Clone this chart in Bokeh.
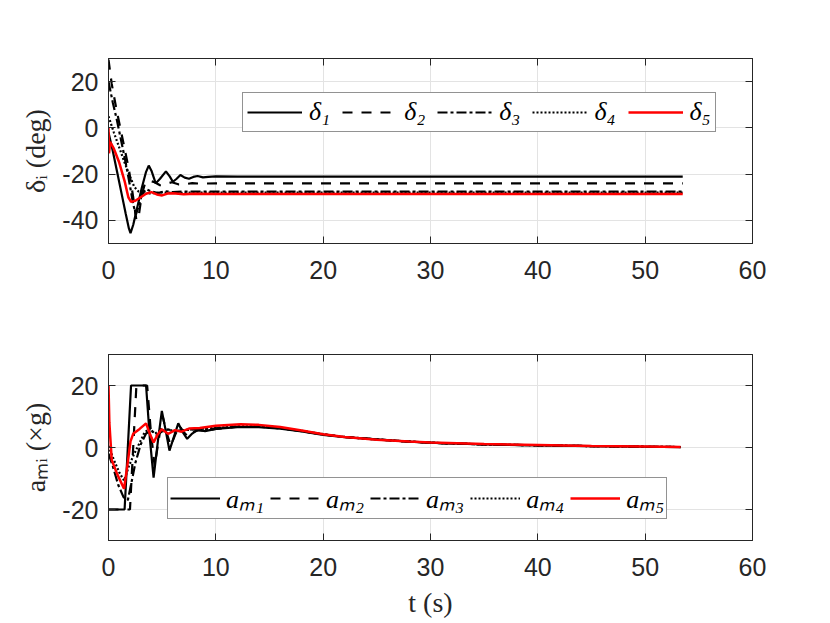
from bokeh.plotting import figure
from bokeh.models import (Legend, LegendItem, LinearAxis, FixedTicker, Range1d, CustomLabelingPolicy)
from bokeh.layouts import column
from bokeh.embed import file_html
from bokeh.resources import INLINE

# ---------------- data: top panel (delta_i, deg) ----------------
t_d1 = [0, 0.4, 0.8, 1.2, 1.6, 1.9, 2.05, 2.3, 2.7, 3.1, 3.5, 3.75, 4.0, 4.4, 4.8, 5.35, 5.7, 6.0, 6.35, 6.7,
        7.1, 7.5, 7.9, 8.3, 8.8, 9.3, 10, 12, 53.5]
d1 = [-2, -10, -19, -28, -37, -43.5, -45.5, -42, -34, -26, -19, -16.3, -18.5, -24, -22, -18.8, -21, -23.3, -22, -20.4,
      -21.5, -22, -21.2, -20.8, -21.4, -21.2, -21, -21.1, -21.1]

t_d2 = [0, 0.3, 0.7, 1.1, 1.5, 1.9, 2.3, 2.6, 2.85, 3.1, 3.4, 3.8, 4.3, 4.8, 5.3, 5.9, 6.5, 7.1, 7.8, 8.5, 10, 53.5]
d2 = [29.5, 19, 9, 0, -9, -18, -30, -40, -37, -29, -24, -22.8, -23.5, -24.8, -24.3, -23.5, -24.4, -24.4, -23.9, -24.1, -24, -24]

t_d3 = [0, 0.4, 0.8, 1.2, 1.6, 2.0, 2.3, 2.55, 2.8, 3.1, 3.5, 4.0, 4.6, 5.3, 6.0, 7.0, 8.0, 10, 53.5]
d3 = [20, 11, 3, -6, -15, -25, -33, -37.5, -34, -29, -26.5, -27.5, -28.2, -27.4, -27.8, -27.5, -27.6, -27.6, -27.6]

t_d4 = [0, 0.5, 1.0, 1.5, 2.0, 2.4, 2.8, 3.3, 4.0, 5.0, 6.0, 8.0, 53.5]
d4 = [5, -2, -8.5, -15, -21, -25.5, -27.5, -28.5, -28.3, -27.9, -28.1, -28, -28]

t_d5 = [0, 0.05, 0.15, 0.5, 1.0, 1.5, 1.85, 2.1, 2.5, 3.0, 3.5, 4.0, 4.5, 5.0, 5.5, 6.0, 7.0, 8.0, 10, 53.5]
d5 = [0, -11, -6, -9, -15, -23, -30, -32, -31.5, -30, -28.5, -27.8, -28.8, -29.2, -28.4, -28.3, -28.7, -28.5, -28.6, -28.6]

# ---------------- data: bottom panel (a_Mi, x g) ----------------
t_a1 = [0, 1.5, 2.1, 3.5, 3.85, 4.2, 4.6, 4.97, 5.3, 5.68, 6.1, 6.5, 6.9, 7.33, 7.8, 8.3, 9.0, 10, 12, 14,
        16, 18, 20, 22, 25, 28, 31, 35, 40, 45, 50, 53.3]
a1 = [-20, -20, 20, 20, 3, -9.7, 2, 11.8, 6, -1, 3.5, 7.8, 5, 2.8, 4.5, 5.7, 5.3, 6.0, 6.6, 6.6,
      6.1, 5.2, 4.1, 3.3, 2.6, 1.9, 1.4, 1.0, 0.7, 0.45, 0.25, 0.15]

t_a2 = [0, 2.0, 2.6, 3.6, 3.95, 4.3, 4.7, 5.05, 5.4, 5.8, 6.2, 6.6, 7.0, 7.4, 7.9, 8.4, 9.0, 10, 12, 14,
        16, 18, 20, 22, 25, 28, 31, 35, 40, 45, 50, 53.3]
a2 = [-20, -20, 20, 20, 5, -6, 3, 10, 5, 0.5, 4, 7, 5, 3.5, 5, 5.6, 5.4, 6.0, 6.7, 6.7,
      6.2, 5.3, 4.2, 3.4, 2.6, 1.9, 1.4, 1.0, 0.7, 0.45, 0.25, 0.15]

t_a3 = [0, 0.4, 0.9, 1.4, 1.8, 2.1, 2.5, 3.0, 3.5, 4.0, 4.5, 5.0, 5.6, 6.2, 7.0, 8.0, 9.0, 10, 12, 14,
        16, 18, 20, 22, 25, 28, 31, 35, 40, 45, 50, 53.3]
a3 = [-2, -6, -12, -16, -17, -12, -5, 1, 4.5, 5.5, 4, 5.2, 5.8, 5.2, 5.6, 5.8, 6.0, 6.2, 6.7, 6.7,
      6.2, 5.3, 4.2, 3.4, 2.6, 1.9, 1.4, 1.0, 0.7, 0.45, 0.25, 0.15]

t_a4 = [0, 0.5, 1.0, 1.45, 1.9, 2.4, 2.9, 3.35, 3.8, 4.3, 4.8, 5.5, 6.2, 7.0, 8.0, 9.0, 10, 12, 14,
        16, 18, 20, 22, 25, 28, 31, 35, 40, 45, 50, 53.3]
a4 = [0.5, -4, -8, -10.7, -6, -2, 1.5, 4.8, 6, 4.5, 5.3, 5.8, 5.3, 5.6, 5.9, 6.1, 6.3, 6.8, 6.8,
      6.3, 5.4, 4.3, 3.4, 2.6, 1.9, 1.4, 1.0, 0.7, 0.45, 0.25, 0.15]

t_a5 = [0, 0.08, 0.3, 0.8, 1.45, 1.75, 2.05, 2.3, 2.9, 3.5, 3.9, 4.2, 4.55, 4.95, 5.55, 6.2, 6.8, 7.5, 8.5, 10,
        12.3, 14, 16, 18, 20, 22, 25, 28, 30, 35, 40, 45, 50, 53.3]
a5 = [20, 8, -4, -8.5, -13.3, -6, 2, 4.4, 6, 7.8, 4, 1.6, 4, 5.9, 4.4, 5.6, 5.1, 6.1, 6.3, 7.0,
      7.5, 7.3, 6.6, 5.5, 4.3, 3.4, 2.5, 1.9, 1.6, 1.1, 0.8, 0.5, 0.3, 0.15]

x_ticks = [0, 10, 20, 30, 40, 50, 60]
top_y_ticks = [-40, -20, 0, 20]
bot_y_ticks = [-20, 0, 20]
top_labels = ["δ₁", "δ₂", "δ₃", "δ₄", "δ₅"]
bot_labels = ["aₘ₁", "aₘ₂", "aₘ₃", "aₘ₄", "aₘ₅"]

TXT = "#262626"
GRID = "#e3e3e3"
SANS = "Liberation Sans"
SERIF = "Liberation Serif"
TICK_FS = "25px"
LABEL_FS = "28px"

styles = [
    dict(color="black", line_width=2.2, line_dash="solid"),
    dict(color="black", line_width=2.2, line_dash="10 9"),
    dict(color="black", line_width=2.2, line_dash="10 3 3 3"),
    dict(color="black", line_width=2.2, line_dash="2 2"),
    dict(color="#ff0000", line_width=2.5, line_dash="solid"),
]

NO_LABELS = CustomLabelingPolicy(code="""
for (const i of indices) { indices.unset(i) }
return indices
""")


def fmt(ticks):
    return {v: str(v) for v in ticks}


def make_fig(yr, yticks, h, bt, bb, ylabel, xlabel=None):
    p = figure(frame_width=644, frame_height=h, x_range=Range1d(0, 60), y_range=Range1d(*yr),
               output_backend="svg", toolbar_location=None,
               min_border_left=108, min_border_right=70, min_border_top=bt, min_border_bottom=bb,
               background_fill_color="white", border_fill_color="white")
    p.outline_line_color = TXT
    p.outline_line_width = 1
    p.xaxis.ticker = FixedTicker(ticks=x_ticks)
    p.yaxis.ticker = FixedTicker(ticks=yticks)
    p.xaxis.major_label_overrides = fmt(x_ticks)
    p.yaxis.major_label_overrides = fmt(yticks)
    for ax in (p.xaxis, p.yaxis):
        ax.major_tick_in = 7
        ax.major_tick_out = 0
        ax.minor_tick_line_color = None
        ax.axis_line_color = TXT
        ax.major_tick_line_color = TXT
        ax.major_label_text_font = SANS
        ax.major_label_text_font_size = TICK_FS
        ax.major_label_text_color = TXT
        ax.axis_label_text_font = SERIF
        ax.axis_label_text_font_size = LABEL_FS
        ax.axis_label_text_font_style = "normal"
        ax.axis_label_text_color = TXT
        ax.axis_label_standoff = 8
    p.xaxis.major_label_standoff = 17
    p.yaxis.major_label_standoff = 10
    p.yaxis.axis_label = ylabel
    if xlabel:
        p.xaxis.axis_label = xlabel
    p.xgrid.ticker = FixedTicker(ticks=x_ticks)
    p.ygrid.ticker = FixedTicker(ticks=yticks)
    p.grid.grid_line_color = GRID
    p.grid.grid_line_width = 1
    # box ticks on top and right (no tick labels)
    for loc, tk in (("right", yticks), ("above", x_ticks)):
        ax = LinearAxis(ticker=FixedTicker(ticks=tk), major_tick_in=7, major_tick_out=0,
                        minor_tick_line_color=None, axis_line_color=TXT, major_tick_line_color=TXT,
                        major_label_policy=NO_LABELS, major_label_standoff=0)
        p.add_layout(ax, loc)
    return p


p1 = make_fig((-50, 30), top_y_ticks, 185, 58, 57, "δᵢ (deg)")
p2 = make_fig((-30, 30), bot_y_ticks, 186, 54, 75, "aₘᵢ (×g)", "t (s)")

top_series = [(t_d1, d1), (t_d2, d2), (t_d3, d3), (t_d4, d4), (t_d5, d5)]
bot_series = [(t_a1, a1), (t_a2, a2), (t_a3, a3), (t_a4, a4), (t_a5, a5)]


def add_lines(p, series, labels, loc, glyph_w, standoff, spacing, padding):
    items = []
    for (tt, vv), st, lab in zip(series, styles, labels):
        r = p.line(tt, vv, line_color=st["color"], line_width=st["line_width"], line_dash=st["line_dash"])
        items.append(LegendItem(label=lab, renderers=[r]))
    lg = Legend(items=items, orientation="horizontal", location=loc,
                label_text_font=SERIF, label_text_font_size="26px", label_text_color="black",
                label_text_font_style="italic",
                glyph_width=glyph_w, glyph_height=20, label_standoff=standoff, spacing=spacing,
                padding=padding, margin=0,
                border_line_color=TXT, border_line_width=1, background_fill_alpha=1.0)
    p.add_layout(lg, "center")


add_lines(p1, top_series, top_labels, (134, 111), 55, 7, 12, 4)
add_lines(p2, bot_series, bot_labels, (59, 21), 50, 6, 6, 2)

layout = column(p1, p2, spacing=0)
open("out.html", "w").write(file_html(layout, INLINE))
